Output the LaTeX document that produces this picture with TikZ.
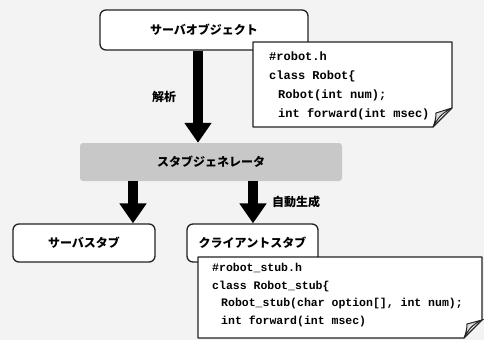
\documentclass[tikz,border=0pt]{standalone}
\usepackage{fontspec}
\newfontfamily\jp{Noto Sans CJK JP}
\newfontfamily\code{Liberation Mono}
\usetikzlibrary{arrows.meta}
\definecolor{bg}{HTML}{F3F3F3}
\definecolor{ink}{HTML}{222222}
\definecolor{gen}{HTML}{C8C8C8}
\tikzset{
  box/.style={draw=ink,line width=1.3pt,rounded corners=6pt,fill=white,inner sep=0pt,
    font=\jp\bfseries\fontsize{12}{14}\selectfont},
  genbox/.style={fill=gen,rounded corners=3pt,inner sep=0pt,font=\jp\bfseries\fontsize{12}{14}\selectfont},
  lbl/.style={font=\jp\bfseries\fontsize{12}{14}\selectfont,inner sep=0pt},
  bigarrow/.style={line width=10pt,draw=black,-{Triangle[length=20pt,width=26pt]}},
  notetext/.style={anchor=north west,align=left,inner sep=0pt,font=\code\bfseries\fontsize{12}{19}\selectfont},
  notetextb/.style={anchor=north west,align=left,inner sep=0pt,font=\code\bfseries\fontsize{11.5}{17.5}\selectfont},
  noteframe/.style={draw=ink,line width=1.3pt,fill=white,line join=round},
  fold/.style={draw=ink,line width=1pt,fill=gen!60}
}
\begin{document}
\begin{tikzpicture}[x=1pt,y=-1pt]
\fill[bg] (0,0) rectangle (484,340);
\useasboundingbox (0,0) rectangle (484,340);

% top box
\node[box,minimum width=208pt,minimum height=40pt] (srv) at (204,30) {サーバオブジェクト};

% note 1
\coordinate (n1a) at (253,42);
\coordinate (n1b) at (452,127);
\draw[noteframe] (253,42) -- (452,42) -- (452,108) -- (433,127) -- (253,127) -- cycle;
\draw[fold] (433,127) .. controls (437,120) and (440,114) .. (452,108) -- (436,113) .. controls (436,118) and (435,122) .. (433,127) -- cycle;
\node[notetext] (n1) at (269,52) {\#robot.h\\class Robot\{\\\hspace*{9pt}Robot(int num);\\\hspace*{9pt}int forward(int msec)};

% generator
\node[genbox,minimum width=262pt,minimum height=38pt] (gen) at (211,162) {スタブジェネレータ};

% bottom boxes
\node[box,minimum width=142pt,minimum height=38pt] (sstub) at (84,243) {サーバスタブ};
\node[box,minimum width=131pt,minimum height=38pt] (cstub) at (252.5,243) {クライアントスタブ};

% arrows
\draw[bigarrow] (srv.south -| 198,0) -- (gen.north -| 198,0);
\draw[bigarrow] (gen.south -| 133,0) -- (sstub.north -| 133,0);
\draw[bigarrow] (gen.south -| 253,0) -- (cstub.north -| 253,0);

\node[lbl] (l1) at (164,97) {解析};
\node[lbl] (l2) at (296,202) {自動生成};

% note 2
\draw[noteframe] (198,257) -- (482,257) -- (482,320) -- (464,338) -- (198,338) -- cycle;
\draw[fold] (464,338) .. controls (468,331) and (471,325) .. (482,320) -- (467,324) .. controls (467,329) and (466,333) .. (464,338) -- cycle;
\node[notetextb] (n2) at (212,263) {\#robot\_stub.h\\class Robot\_stub\{\\\hspace*{9pt}Robot\_stub(char option[], int num);\\\hspace*{9pt}int forward(int msec)};
\end{tikzpicture}
\end{document}
